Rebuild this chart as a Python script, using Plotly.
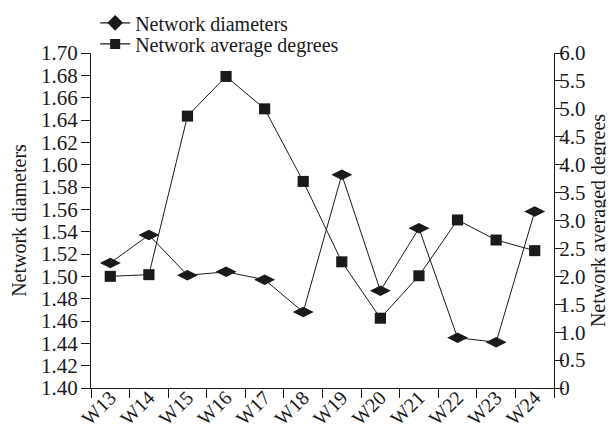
import plotly.graph_objects as go

weeks = ["W13", "W14", "W15", "W16", "W17", "W18", "W19", "W20", "W21", "W22", "W23", "W24"]
diameters = [1.512, 1.537, 1.501, 1.504, 1.497, 1.468, 1.591, 1.487, 1.543, 1.445, 1.441, 1.558]
avg_degrees = [2.00, 2.03, 4.87, 5.58, 5.00, 3.70, 2.26, 1.25, 2.01, 3.01, 2.65, 2.46]

left_ticks = [1.40, 1.42, 1.44, 1.46, 1.48, 1.50, 1.52, 1.54, 1.56, 1.58, 1.60, 1.62, 1.64, 1.66, 1.68, 1.70]
right_ticks = [0, 0.5, 1.0, 1.5, 2.0, 2.5, 3.0, 3.5, 4.0, 4.5, 5.0, 5.5, 6.0]
right_labels = ["0", "0.5", "1.0", "1.5", "2.0", "2.5", "3.0", "3.5", "4.0", "4.5", "5.0", "5.5", "6.0"]

FONT = "Liberation Serif, Times New Roman, serif"
BLACK = "#1a1a1a"

fig = go.Figure()

# data traces
fig.add_trace(go.Scatter(
    x=weeks, y=diameters, mode="lines+markers", yaxis="y",
    line=dict(color=BLACK, width=1),
    marker=dict(symbol="diamond-wide", size=15, color=BLACK),
    showlegend=False, cliponaxis=False))
fig.add_trace(go.Scatter(
    x=weeks, y=avg_degrees, mode="lines+markers", yaxis="y2",
    line=dict(color=BLACK, width=1),
    marker=dict(symbol="line-ew", size=8, color=BLACK, line=dict(color=BLACK, width=11)),
    showlegend=False, cliponaxis=False))

# legend entries
fig.add_trace(go.Scatter(
    x=[None], y=[None], mode="lines+markers", name="Network diameters",
    line=dict(color=BLACK, width=1.3),
    marker=dict(symbol="diamond", size=12, color=BLACK), legend="legend"))
fig.add_trace(go.Scatter(
    x=[None], y=[None], mode="lines+markers", name="Network average degrees",
    line=dict(color=BLACK, width=1.3),
    marker=dict(symbol="square", size=10, color=BLACK), legend="legend2"))

fig.update_layout(
    width=614, height=428,
    margin=dict(l=83, r=68, t=45, b=48, autoexpand=False),
    paper_bgcolor="white", plot_bgcolor="white",
    font=dict(family=FONT, size=20, color=BLACK),
    xaxis=dict(
        type="category", categoryorder="array", categoryarray=weeks,
        range=[-0.5, 11.5], tickson="boundaries", ticks="outside", ticklen=9,
        tickwidth=1, tickcolor=BLACK, tickangle=-45, ticklabelstandoff=-11,
        showline=True, linecolor=BLACK, linewidth=1, showgrid=False, zeroline=False,
        tickfont=dict(family=FONT, size=20, color=BLACK), automargin=False),
    yaxis=dict(
        range=[1.40, 1.70], tickvals=left_ticks, tickformat=".2f",
        ticks="outside", ticklen=9, tickwidth=1, tickcolor=BLACK, ticklabelstandoff=-1,
        showline=True, linecolor=BLACK, linewidth=1, showgrid=False, zeroline=False,
        tickfont=dict(family=FONT, size=21, color=BLACK),
        title=dict(text="Network diameters", font=dict(family=FONT, size=20, color=BLACK), standoff=10),
        automargin=False),
    yaxis2=dict(
        range=[0, 6], tickvals=right_ticks, ticktext=right_labels, overlaying="y", side="right",
        ticks="outside", ticklen=9, tickwidth=1, tickcolor=BLACK, ticklabelstandoff=-9,
        showline=True, linecolor=BLACK, linewidth=1, showgrid=False, zeroline=False,
        tickfont=dict(family=FONT, size=21, color=BLACK),
        title=dict(text="Network averaged degrees", font=dict(family=FONT, size=20, color=BLACK), standoff=6),
        automargin=False),
    legend=dict(x=0.009, y=1.09, xanchor="left", yanchor="middle", bgcolor="rgba(0,0,0,0)",
                font=dict(family=FONT, size=20, color=BLACK), borderwidth=0),
    legend2=dict(x=0.009, y=1.027, xanchor="left", yanchor="middle", bgcolor="rgba(0,0,0,0)",
                 font=dict(family=FONT, size=20, color=BLACK), borderwidth=0),
)

fig.write_html("out.html")
